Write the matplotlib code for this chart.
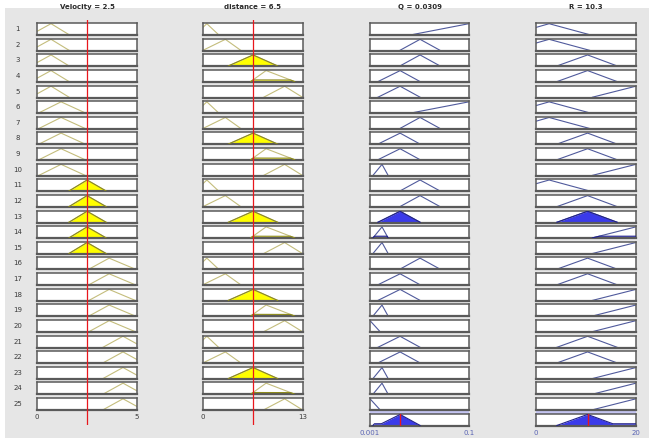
import matplotlib
matplotlib.use("Agg")
import matplotlib.pyplot as plt
import numpy as np
from matplotlib.patches import Rectangle

# ---- data -------------------------------------------------------------
velocity_value = 2.5
distance_value = 6.5
q_value = 0.0309
r_value = 10.3

velocity_range = [0, 5]
distance_range = [0, 13]
q_range = [0.001, 0.1]
r_range = [0, 20]

velocity_ticklabels = ["0", "5"]
distance_ticklabels = ["0", "13"]
q_ticklabels = ["0.001", "0.1"]
r_ticklabels = ["0", "20"]

# triangular membership functions [left foot, peak, right foot]
velocity_mfs = [[-0.3, 0.7, 1.6], [0.1, 1.2, 2.4], [1.6, 2.5, 3.45],
                [2.6, 3.6, 4.9], [3.3, 4.3, 5.3]]
distance_mfs = [[-1.0, 0.5, 2.0], [0.0, 2.9, 4.9], [3.3, 6.5, 9.7],
                [6.2, 8.2, 11.9], [7.9, 10.6, 12.9]]
q_mfs = {"A": [0.004, 0.013, 0.019], "B": [0.009, 0.031, 0.051],
         "C": [0.031, 0.051, 0.071], "D": [0.043, 0.1, 0.157],
         "E": [-0.009, 0.001, 0.011]}
r_mfs = {"A": [-5.0, 2.6, 10.7], "C": [4.2, 10.3, 16.2], "D": [11.3, 20.0, 28.7]}

# rule base: antecedent MF index per rule, consequent MF name per rule
rule_velocity = [1, 1, 1, 1, 1, 2, 2, 2, 2, 2, 3, 3, 3, 3, 3,
                 4, 4, 4, 4, 4, 5, 5, 5, 5, 5]
rule_distance = [1, 2, 3, 4, 5, 1, 2, 3, 4, 5, 1, 2, 3, 4, 5,
                 1, 2, 3, 4, 5, 1, 2, 3, 4, 5]
rule_q = ["D", "C", "C", "B", "B", "D", "C", "B", "B", "A", "C", "C", "B",
          "A", "A", "C", "B", "B", "A", "E", "B", "B", "A", "A", "E"]
rule_r = ["A", "A", "C", "C", "D", "A", "A", "C", "C", "D", "A", "C", "C",
          "D", "D", "C", "C", "D", "D", "D", "C", "C", "D", "D", "D"]

# ---- layout -----------------------------------------------------------
W, H, DPI = 649, 438, 100
ROW_TOP0, ROW_PITCH, ROW_H = 23.0, 15.63, 12.0
COLS = [(37, 137), (203, 303), (370, 469), (536, 636)]

BG = "#e6e6e6"
EDGE = "#5a5a5a"
IN_LINE = "#c4bd7c"
IN_FILL = "#ffff00"
IN_FILL_EDGE = "#8c8a1c"
OUT_LINE = "#505a9c"
OUT_FILL = "#3b3bea"
OUT_FILL_EDGE = "#20208a"
TXT = "#3a3a3a"

fig = plt.figure(figsize=(W / DPI, H / DPI), dpi=DPI, facecolor="white")
fig.patches.append(Rectangle((5 / W, 0), 1, 1 - 8 / H, transform=fig.transFigure,
                             facecolor=BG, edgecolor="none", zorder=-10))


def rect(x0, y0, w, h):
    return [x0 / W, 1 - (y0 + h) / H, w / W, h / H]


def trimf(x, p):
    a, b, c = p
    left = np.where(b > a, (x - a) / (b - a + 1e-12), 1.0)
    right = np.where(c > b, (c - x) / (c - b + 1e-12), 1.0)
    return np.clip(np.minimum(left, right), 0, 1)


def visible(y):
    """Hide the flat zero part of a curve so it does not trace the baseline."""
    out = y.astype(float).copy()
    pos = y > 0
    keep = pos | np.roll(pos, 1) | np.roll(pos, -1)
    out[~keep] = np.nan
    return out


def make_box(col, row):
    x0, x1 = COLS[col]
    top = ROW_TOP0 + (row - 1) * ROW_PITCH
    ax = fig.add_axes(rect(x0, top, x1 - x0, ROW_H))
    ax.set_facecolor("white")
    for s in ax.spines.values():
        s.set_color(EDGE)
        s.set_linewidth(1.1)
    ax.spines["bottom"].set_linewidth(1.6)
    ax.set_xticks([])
    ax.set_yticks([])
    ax.set_ylim(-0.03, 1.06)
    return ax


def fire(value, p):
    return float(trimf(np.array([value]), p)[0])


strengths = [min(fire(velocity_value, velocity_mfs[v - 1]),
                 fire(distance_value, distance_mfs[d - 1]))
             for v, d in zip(rule_velocity, rule_distance)]

inputs = [(velocity_range, velocity_mfs, rule_velocity, velocity_value, velocity_ticklabels),
          (distance_range, distance_mfs, rule_distance, distance_value, distance_ticklabels)]
outputs = [(q_range, q_mfs, rule_q, q_value, q_ticklabels),
           (r_range, r_mfs, rule_r, r_value, r_ticklabels)]
n_rules = len(rule_velocity)

# input columns
for ci, (rng, mfs, rule_idx, val, tlabels) in enumerate(inputs):
    xs = np.linspace(rng[0], rng[1], 600)
    for r in range(1, n_rules + 1):
        ax = make_box(ci, r)
        ax.set_xlim(rng)
        mf = mfs[rule_idx[r - 1] - 1]
        y = trimf(xs, mf)
        mu = fire(val, mf)
        if mu > 0:
            clipped = np.minimum(y, mu)
            ax.fill_between(xs, 0, clipped, where=clipped > 0, color=IN_FILL,
                            lw=0, zorder=2)
            ax.plot(xs, visible(clipped), color=IN_FILL_EDGE, lw=0.8, zorder=3)
        ax.plot(xs, visible(y), color=IN_LINE, lw=0.8, zorder=2)
        if r == n_rules:
            ax.set_xticks(rng)
            ax.set_xticklabels(tlabels, fontsize=5, color=TXT)
            ax.tick_params(length=0, pad=3)
        if ci == 0:
            ax.set_ylabel(str(r), rotation=0, fontsize=5, color=TXT,
                          labelpad=14, va="center")
    # value line across the whole column
    x0, x1 = COLS[ci]
    ov = fig.add_axes(rect(x0, 20, x1 - x0, 405), facecolor="none")
    ov.set_xlim(rng)
    ov.set_ylim(0, 1)
    ov.axis("off")
    ov.axvline(val, color="#e8171d", lw=0.9)

# output columns
for oi, (rng, mfs, rule_mf, val, tlabels) in enumerate(outputs):
    ci = oi + 2
    xs = np.linspace(rng[0], rng[1], 800)
    agg = np.zeros_like(xs)
    for r in range(1, n_rules + 1):
        ax = make_box(ci, r)
        ax.set_xlim(rng)
        mf = mfs[rule_mf[r - 1]]
        y = trimf(xs, mf)
        s = strengths[r - 1]
        if s > 0:
            clipped = np.minimum(y, s)
            agg = np.maximum(agg, clipped)
            ax.fill_between(xs, 0, clipped, where=clipped > 0, color=OUT_FILL,
                            lw=0, zorder=2)
            ax.plot(xs, visible(clipped), color=OUT_FILL_EDGE, lw=0.8, zorder=3)
        ax.plot(xs, visible(y), color=OUT_LINE, lw=0.8, zorder=2)
    # aggregated output row
    ax = make_box(ci, n_rules + 1)
    ax.set_xlim(rng)
    ax.fill_between(xs, 0, agg, where=agg > 0, color=OUT_FILL, lw=0, zorder=2)
    ax.plot(xs, visible(agg), color=OUT_FILL_EDGE, lw=0.8, zorder=3)
    ax.axvline(val, color="#e8171d", lw=1.0, zorder=4)
    ax.set_xticks(rng)
    ax.set_xticklabels(tlabels, fontsize=5, color="#5a64b4")
    ax.tick_params(length=0, pad=3)
    # light band separating the aggregate row
    x0, x1 = COLS[ci]
    fig.patches.append(Rectangle((x0 / W, 1 - 413.5 / H), (x1 - x0) / W, 4 / H,
                                 transform=fig.transFigure, facecolor="#c4c4f0",
                                 edgecolor="none", zorder=-5))

# column titles
titles = [f"Velocity = {velocity_value:g}", f"distance = {distance_value:g}",
          f"Q = {q_value:.4f}", f"R = {r_value:g}"]
for (x0, x1), t in zip(COLS, titles):
    fig.text((x0 + x1) / 2 / W, 1 - 7 / H, t, ha="center", va="center",
             fontsize=5, fontweight="bold", color="#2a2a2a")

fig.savefig("out.png", dpi=DPI, facecolor=fig.get_facecolor())
